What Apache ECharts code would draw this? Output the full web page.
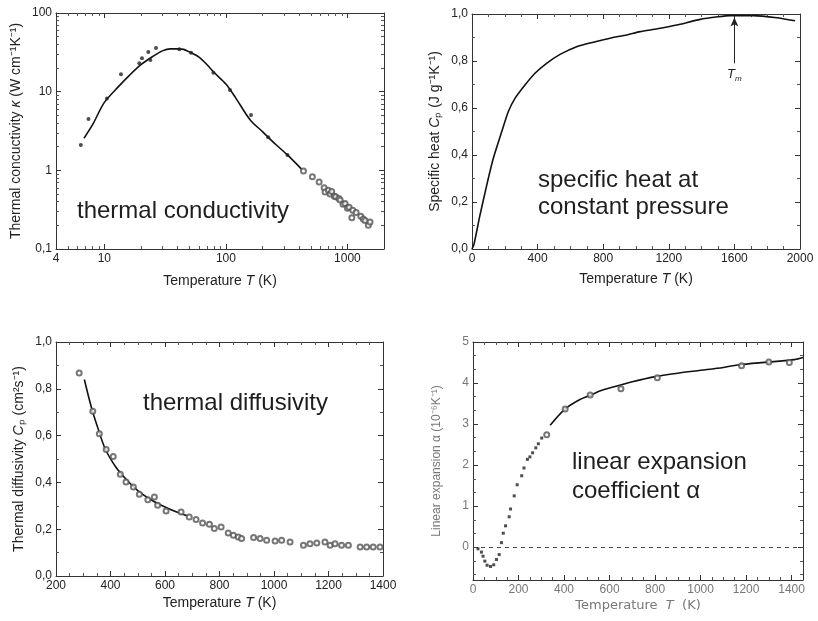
<!DOCTYPE html>
<html>
<head>
<meta charset="utf-8">
<title>Thermal properties</title>
<script src="https://cdn.jsdelivr.net/npm/echarts@6/dist/echarts.min.js"></script>
<style>
html, body { margin: 0; padding: 0; background: #fff; }
#main { width: 818px; height: 621px; }
</style>
</head>
<body>
<div id="main"></div>
<script>
// thermal conductivity (log-log)
var kFitT = [6.8, 8, 10, 13, 16, 20, 25, 30, 35, 40, 45, 50, 60, 70, 80, 100, 120, 158, 200, 260, 321, 421];
var kFitV = [2.56, 3.8, 7.3, 11.5, 16, 22, 28, 33, 35, 35, 34.5, 32, 27.5, 22, 17.5, 12.5, 8.4, 4.4, 3.1, 2.1, 1.57, 1.03];
var kDotT = [6.4, 7.4, 10.5, 13.7, 19.4, 20.4, 23, 23.9, 26.6, 41.4, 51.7, 78.9, 108, 161, 223, 321];
var kDotV = [2.1, 4.5, 8.2, 16.6, 23, 26.5, 32, 25.3, 35.9, 34.6, 31.3, 17.4, 10.5, 5.06, 2.64, 1.57];
var kCirT = [435, 515, 585, 643, 655, 697, 720, 743, 780, 801, 850, 871, 920, 957, 1000, 1033, 1087, 1107, 1180, 1288, 1350, 1397, 1486, 1535];
var kCirV = [0.98, 0.83, 0.71, 0.60, 0.53, 0.56, 0.50, 0.54, 0.47, 0.46, 0.44, 0.42, 0.37, 0.38, 0.33, 0.34, 0.25, 0.31, 0.29, 0.26, 0.24, 0.23, 0.20, 0.22];

// specific heat
var cpT = [0, 12, 49, 90, 130, 181, 221, 262, 323, 384, 455, 537, 638, 740, 842, 943, 1025, 1130, 1248, 1391, 1500, 1573, 1716, 1858, 1970];
var cpV = [0, 0.02, 0.145, 0.272, 0.386, 0.499, 0.584, 0.641, 0.698, 0.748, 0.790, 0.828, 0.861, 0.880, 0.897, 0.911, 0.925, 0.937, 0.953, 0.977, 0.988, 0.993, 0.993, 0.984, 0.971];
var tmT = 1600, tmFrom = 0.79, tmTo = 0.985;

// thermal diffusivity
var dfFitT = [304, 330, 350, 380, 420, 460, 500, 550, 600, 650, 680];
var dfFitV = [0.84, 0.72, 0.645, 0.545, 0.465, 0.41, 0.365, 0.325, 0.295, 0.27, 0.258];
var dfCirT = [285, 335, 359, 384, 410, 436, 457, 484, 506, 537, 561, 573, 604, 659, 689, 714, 738, 763, 781, 806, 832, 851, 869, 881, 925, 949, 973, 1004, 1028, 1059, 1108, 1132, 1157, 1187, 1206, 1224, 1248, 1273, 1316, 1340, 1364, 1389];
var dfCirV = [0.868, 0.704, 0.608, 0.541, 0.511, 0.435, 0.402, 0.380, 0.349, 0.326, 0.338, 0.302, 0.278, 0.274, 0.252, 0.241, 0.226, 0.221, 0.203, 0.209, 0.184, 0.174, 0.167, 0.160, 0.164, 0.160, 0.153, 0.150, 0.153, 0.145, 0.131, 0.138, 0.141, 0.145, 0.131, 0.138, 0.131, 0.131, 0.124, 0.124, 0.124, 0.124];

// linear expansion coefficient
var exDotT = [22, 37, 44, 52, 62, 77, 91, 103, 115, 125, 133, 143, 159, 165, 181, 194, 214, 224, 239, 250, 262, 276, 287, 302];
var exDotV = [-0.04, -0.12, -0.22, -0.34, -0.44, -0.47, -0.43, -0.30, -0.18, 0.11, 0.34, 0.52, 0.74, 0.93, 1.25, 1.52, 1.74, 1.93, 2.14, 2.20, 2.30, 2.42, 2.52, 2.66];
var exFitT = [339, 405, 470, 523, 560, 600, 648, 700, 795, 900, 1001, 1100, 1163, 1296, 1413, 1450];
var exFitV = [2.97, 3.37, 3.6, 3.72, 3.81, 3.88, 3.95, 4.03, 4.15, 4.24, 4.31, 4.38, 4.44, 4.51, 4.57, 4.62];
var exCirT = [324, 405, 515, 650, 810, 1180, 1300, 1390];
var exCirV = [2.74, 3.37, 3.71, 3.86, 4.13, 4.42, 4.51, 4.50];

var font = '"Liberation Sans", Arial, sans-serif';
var ink = '#222';
var grey = '#777';

function zip(xs, ys) {
    return xs.map(function (x, i) { return [x, ys[i]]; });
}
function comma(v) {
    return String(+(+v).toPrecision(3)).replace('.', ',');
}
function oneDec(v) {
    return (+v).toFixed(1).replace('.', ',');
}
function plain(v) {
    return String(v);
}

// one axis, or its label-less twin on the opposite side
function axis(o, mirror) {
    var c = o.color || ink;
    var a = {
        gridIndex: o.grid,
        type: o.type || 'value',
        min: o.min,
        max: o.max,
        position: mirror ? o.mirrorPos : o.pos,
        axisLine: { show: true, onZero: false, lineStyle: { color: '#333', width: 1 } },
        axisTick: { show: true, inside: true, length: 5, lineStyle: { color: '#333', width: 1 } },
        minorTick: { show: !!o.minor, splitNumber: o.minor || 5, length: 3, lineStyle: { color: '#555', width: 1 } },
        splitLine: { show: false },
        minorSplitLine: { show: false },
        axisLabel: {
            show: !mirror, margin: 4, fontSize: 12, color: c, fontFamily: font,
            formatter: o.fmt || plain
        }
    };
    if (o.interval) a.interval = o.interval;
    if (o.splitNumber) a.splitNumber = o.splitNumber;
    if (!mirror && o.name) {
        a.name = o.name;
        a.nameLocation = 'middle';
        a.nameGap = o.gap;
        a.nameTextStyle = {
            fontSize: o.nameSize || 14, color: c, fontFamily: o.nameFont || font,
            rich: {
                i: { fontStyle: 'italic', fontSize: o.nameSize || 14, color: c, fontFamily: o.nameFont || font }
            }
        };
    }
    return a;
}

var xDefs = [
    { grid: 0, type: 'log', min: 4, max: 2000, minor: 9, pos: 'bottom', mirrorPos: 'top',
      fmt: function (v) { return v > 1500 ? '' : comma(v); },
      name: 'Temperature {i|T} (K)', gap: 25 },
    { grid: 1, min: 0, max: 2000, interval: 400, minor: 4, pos: 'bottom', mirrorPos: 'top',
      name: 'Temperature {i|T} (K)', gap: 23 },
    { grid: 2, min: 200, max: 1400, interval: 200, minor: 4, pos: 'bottom', mirrorPos: 'top',
      name: 'Temperature {i|T} (K)', gap: 20 },
    { grid: 3, min: 0, max: 1450, interval: 200, minor: 4, pos: 'bottom', mirrorPos: 'top', color: grey,
      fmt: function (v) { return v % 200 === 0 ? String(v) : ''; },
      name: 'Temperature  {i|T}  (K)', gap: 19, nameFont: '"DejaVu Sans", sans-serif', nameSize: 13 }
];
var yDefs = [
    { grid: 0, type: 'log', min: 0.1, max: 100, minor: 9, pos: 'left', mirrorPos: 'right', fmt: comma,
      name: 'Thermal concuctivity {i|κ} (W cm⁻¹K⁻¹)', gap: 33 },
    { grid: 1, min: 0, max: 1, interval: 0.2, minor: 2, pos: 'left', mirrorPos: 'right', fmt: oneDec,
      name: 'Specific heat {i|C}ₚ (J g⁻¹K⁻¹)', gap: 30 },
    { grid: 2, min: 0, max: 1, interval: 0.2, minor: 2, pos: 'left', mirrorPos: 'right', fmt: oneDec,
      name: 'Thermal diffusivity {i|C}ₚ (cm²s⁻¹)', gap: 30 },
    { grid: 3, min: -0.8, max: 5, splitNumber: 6, minor: 3, pos: 'left', mirrorPos: 'right', color: grey,
      fmt: function (v) { return Math.abs(v - Math.round(v)) < 1e-6 ? String(Math.round(v)) : ''; },
      name: 'Linear expansion α (10⁻⁶K⁻¹)', gap: 30, nameSize: 12 }
];

var xAxes = [], yAxes = [];
xDefs.forEach(function (d) { xAxes.push(axis(d, false), axis(d, true)); });
yDefs.forEach(function (d) { yAxes.push(axis(d, false), axis(d, true)); });

function fit(i, xs, ys, extra) {
    var s = {
        type: 'line', xAxisIndex: 2 * i, yAxisIndex: 2 * i,
        data: zip(xs, ys), smooth: 0.3, showSymbol: false, symbol: 'none',
        lineStyle: { color: '#111', width: 1.6 }, z: 3, silent: true
    };
    return Object.assign(s, extra || {});
}
function pts(i, xs, ys, sym, size, extra) {
    var s = {
        type: 'scatter', xAxisIndex: 2 * i, yAxisIndex: 2 * i,
        data: zip(xs, ys), symbol: sym, symbolSize: size,
        itemStyle: { color: sym === 'emptyCircle' ? '#555' : '#222', borderWidth: 1 },
        silent: true, z: 4
    };
    return Object.assign(s, extra || {});
}

var bigText = { fontSize: 24, fontFamily: font, fill: '#1e1e1e' };

var option = {
    backgroundColor: '#fff',
    animation: false,
    grid: [
        { left: 56, top: 13, width: 328, height: 236 },
        { left: 472, top: 14, width: 328, height: 235 },
        { left: 56, top: 342, width: 327, height: 234 },
        { left: 473, top: 342, width: 330, height: 238 }
    ].map(function (g) {
        return Object.assign(g, { containLabel: false, outerBoundsMode: 'none', show: false });
    }),
    xAxis: xAxes,
    yAxis: yAxes,
    series: [
        fit(0, kFitT, kFitV),
        pts(0, kDotT, kDotV, 'circle', 4),
        pts(0, kCirT, kCirV, 'emptyCircle', 5),

        fit(1, cpT, cpV, {
            smooth: 0.2,
            markLine: {
                silent: true, symbol: ['none', 'arrow'], symbolSize: [6, 9],
                lineStyle: { color: ink, width: 1, type: 'solid' },
                label: {
                    show: true, position: 'start', distance: 3, formatter: '{i|T}{s|m}',
                    rich: {
                        i: { fontStyle: 'italic', fontSize: 13, color: ink, fontFamily: font },
                        s: { fontStyle: 'italic', fontSize: 8, color: ink, fontFamily: font, padding: [8, 0, 0, 0] }
                    }
                },
                data: [[{ coord: [tmT, tmFrom] }, { coord: [tmT, tmTo] }]]
            }
        }),

        fit(2, dfFitT, dfFitV),
        pts(2, dfCirT, dfCirV, 'emptyCircle', 5),

        fit(3, exFitT, exFitV),
        pts(3, exCirT, exCirV, 'emptyCircle', 5),
        pts(3, exDotT, exDotV, 'rect', 3, {
            markLine: {
                silent: true, symbol: 'none', label: { show: false },
                lineStyle: { color: '#444', width: 1, type: [4, 4] },
                data: [{ yAxis: 0 }]
            }
        })
    ],
    graphic: [
        { type: 'text', left: 77, top: 199, style: Object.assign({ text: 'thermal conductivity' }, bigText) },
        { type: 'text', left: 538, top: 167, style: Object.assign({ text: 'specific heat at\nconstant pressure', lineHeight: 27 }, bigText) },
        { type: 'text', left: 143, top: 391, style: Object.assign({ text: 'thermal diffusivity' }, bigText) },
        { type: 'text', left: 572, top: 448, style: Object.assign({ text: 'linear expansion\ncoefficient α', lineHeight: 29 }, bigText) }
    ]
};

var chart = echarts.init(document.getElementById('main'), null, { renderer: 'canvas' });
chart.setOption(option);
</script>
</body>
</html>
